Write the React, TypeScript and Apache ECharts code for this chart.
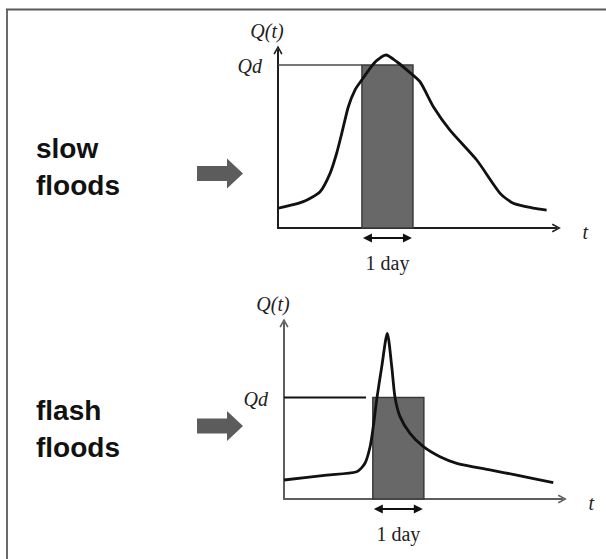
import { useEffect, useRef } from "react";
import * as echarts from "echarts";

// ---- data (time in hours, discharge in % of axis height) ----
const slowT = [0, 11.9, 19.8, 24.5, 27.6, 30, 33.1, 36.2, 39.4, 43.3, 46.4, 50.8, 55.9, 60.6, 66.8, 73.1, 80.9, 93.5, 104.5, 110.7, 120, 126.4];
const slowQ = [11.1, 14.8, 20.4, 30.7, 42, 53.2, 68.1, 77.5, 83.1, 89.7, 94, 97.2, 93.4, 88.8, 82.2, 68.1, 55, 38.2, 19.5, 13.9, 11.2, 10.1];
const flashT = [0, 20.1, 34.2, 38.1, 40.5, 42, 43.6, 46, 48.6, 50.7, 52.2, 54.6, 59.3, 65.6, 73.4, 81.3, 96.9, 109.5, 126.7];
const flashQ = [10.8, 13.6, 15.5, 20.3, 29.7, 41.1, 56.3, 75.2, 94.1, 75.2, 58.1, 46.8, 37.3, 29.7, 24, 20.3, 16.5, 13.6, 9.3];

const slowQd = 91.6;
const flashQd = 57.6;
const slowDay = [39.5, 63.5];
const flashDay = [41.8, 65.8];
const slowQdLineEnd = 39.5;
const flashQdLineEnd = 38.6;

const panelTitles = [["slow", "floods"], ["flash", "floods"]];
const yAxisName = "Q(t)";
const xAxisName = "t";
const qdName = "Qd";
const dayName = "1 day";

const T_MAX = 131;
const Q_MAX = 100;

const CHEVRON = "path://M0,9 L5,0 L10,9 L8.4,9.8 L5,3.2 L1.6,9.8 Z";
const SERIF_I = 'italic 20px "Liberation Serif", "DejaVu Serif", serif';
const SERIF = '20px "Liberation Serif", "DejaVu Serif", serif';
const SANS_B = 'bold 28px "Liberation Sans", Arial, sans-serif';

function makeRenderItem(qdColor: string, qdWidth: number) {
  return (_params: any, api: any) => {
    const dayStart = api.value(0);
    const dayEnd = api.value(1);
    const qd = api.value(2);
    const qdEnd = api.value(3);
    const origin = api.coord([0, 0]);
    const top = api.coord([0, Q_MAX]);
    const end = api.coord([T_MAX, 0]);
    const pA = api.coord([dayStart, qd]);
    const pB = api.coord([dayEnd, 0]);
    const pQ = api.coord([qdEnd, qd]);
    const ay = origin[1] + 10;
    const x1 = pA[0] + 1;
    const x2 = pB[0] - 1;
    const head = 9;
    const hh = 4.5;
    return {
      type: "group",
      children: [
        {
          type: "rect",
          shape: { x: pA[0], y: pA[1], width: pB[0] - pA[0], height: pB[1] - pA[1] },
          style: { fill: "#686868", stroke: "#3a3a3a", lineWidth: 1.5 },
        },
        {
          type: "line",
          shape: { x1: origin[0], y1: pA[1], x2: pQ[0], y2: pA[1] },
          style: { stroke: qdColor, lineWidth: qdWidth },
        },
        {
          type: "text",
          x: origin[0] - 16,
          y: pA[1] + 1,
          style: { text: qdName, font: SERIF_I, fill: "#222", align: "right", verticalAlign: "middle" },
        },
        {
          type: "text",
          x: origin[0] - 11,
          y: top[1] - 19,
          style: { text: yAxisName, font: SERIF_I, fill: "#222", align: "center", verticalAlign: "middle" },
        },
        {
          type: "text",
          x: end[0] + 29,
          y: end[1] + 4,
          style: { text: xAxisName, font: SERIF_I, fill: "#222", align: "center", verticalAlign: "middle" },
        },
        {
          type: "line",
          shape: { x1: x1 + head - 1, y1: ay, x2: x2 - head + 1, y2: ay },
          style: { stroke: "#111", lineWidth: 2 },
        },
        {
          type: "polygon",
          shape: { points: [[x1, ay], [x1 + head, ay - hh], [x1 + head, ay + hh]] },
          style: { fill: "#111" },
        },
        {
          type: "polygon",
          shape: { points: [[x2, ay], [x2 - head, ay - hh], [x2 - head, ay + hh]] },
          style: { fill: "#111" },
        },
        {
          type: "text",
          x: (pA[0] + pB[0]) / 2,
          y: origin[1] + 35,
          style: { text: dayName, font: SERIF, fill: "#222", align: "center", verticalAlign: "middle" },
        },
      ],
    };
  };
}

function axisPair(gridIndex: number, color: string) {
  const axisLine = {
    show: true,
    symbol: ["none", CHEVRON],
    symbolSize: [10, 9],
    lineStyle: { color, width: 2 },
  };
  return {
    x: {
      type: "value",
      gridIndex,
      min: 0,
      max: T_MAX,
      axisLine,
      axisTick: { show: false },
      axisLabel: { show: false },
      splitLine: { show: false },
    },
    y: {
      type: "value",
      gridIndex,
      min: 0,
      max: Q_MAX,
      axisLine,
      axisTick: { show: false },
      axisLabel: { show: false },
      splitLine: { show: false },
    },
  };
}

function blockArrow(cy: number) {
  return {
    type: "polygon",
    shape: {
      points: [
        [197, cy - 7.5],
        [227, cy - 7.5],
        [227, cy - 15],
        [243, cy],
        [227, cy + 15],
        [227, cy + 7.5],
        [197, cy + 7.5],
      ],
    },
    style: { fill: "#5c5c5c" },
  };
}

function titleTexts(lines: string[], y0: number) {
  return lines.map((s, i) => ({
    type: "text",
    x: 36,
    y: y0 + i * 37,
    style: { text: s, font: SANS_B, fill: "#111", align: "left", verticalAlign: "middle" },
  }));
}

export default function App() {
  const ref = useRef<HTMLDivElement>(null);
  useEffect(() => {
    if (!ref.current) return;
    const chart = echarts.init(ref.current, undefined, { renderer: "svg" });
    const a0 = axisPair(0, "#1e1e1e");
    const a1 = axisPair(1, "#5e5e5e");
    chart.setOption({
      animation: false,
      backgroundColor: "#ffffff",
      grid: [
        { left: 278, top: 50, width: 278.4, height: 178 },
        { left: 284, top: 323, width: 278.4, height: 176 },
      ],
      xAxis: [a0.x, a1.x],
      yAxis: [a0.y, a1.y],
      series: [
        {
          type: "custom",
          xAxisIndex: 0,
          yAxisIndex: 0,
          z: 1,
          renderItem: makeRenderItem("#4a4a4a", 1.5),
          data: [[slowDay[0], slowDay[1], slowQd, slowQdLineEnd]],
        },
        {
          type: "custom",
          xAxisIndex: 1,
          yAxisIndex: 1,
          z: 1,
          renderItem: makeRenderItem("#111", 2),
          data: [[flashDay[0], flashDay[1], flashQd, flashQdLineEnd]],
        },
        {
          type: "line",
          xAxisIndex: 0,
          yAxisIndex: 0,
          z: 3,
          smooth: 0.22,
          showSymbol: false,
          symbol: "none",
          lineStyle: { color: "#111", width: 2.8 },
          data: slowT.map((t, i) => [t, slowQ[i]]),
        },
        {
          type: "line",
          xAxisIndex: 1,
          yAxisIndex: 1,
          z: 3,
          smooth: 0.25,
          showSymbol: false,
          symbol: "none",
          lineStyle: { color: "#111", width: 2.8 },
          data: flashT.map((t, i) => [t, flashQ[i]]),
        },
      ],
      graphic: [
        { type: "line", shape: { x1: 7, y1: 9, x2: 7, y2: 559 }, style: { stroke: "#6b6b6b", lineWidth: 2 } },
        { type: "line", shape: { x1: 6, y1: 9.5, x2: 606, y2: 9.5 }, style: { stroke: "#5a5a5a", lineWidth: 2 } },
        ...titleTexts(panelTitles[0], 148.5),
        ...titleTexts(panelTitles[1], 410.5),
        blockArrow(173.5),
        blockArrow(426),
      ],
    });
    return () => chart.dispose();
  }, []);
  return (
    <div
      ref={ref}
      style={{ position: "absolute", left: 0, top: 0, width: 606, height: 559, background: "#fff" }}
    />
  );
}
